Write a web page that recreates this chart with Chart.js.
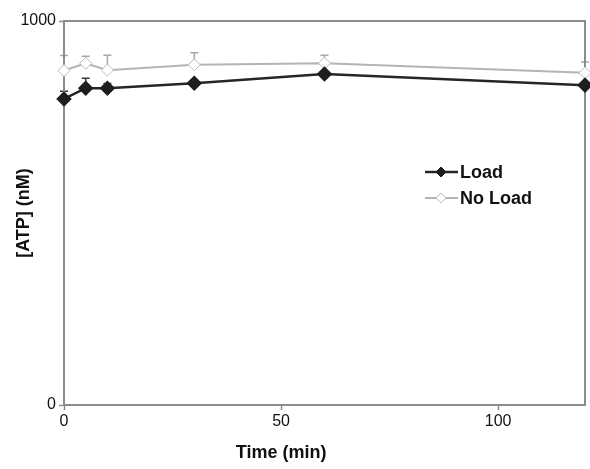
<!DOCTYPE html>
<html>
<head>
<meta charset="utf-8">
<script src="https://cdn.jsdelivr.net/npm/chart.js@4"></script>
<style>
  html, body { margin: 0; padding: 0; background: #fff; }
  #wrap { width: 590px; height: 469px; }
</style>
</head>
<body>
<div id="wrap"><canvas id="atpChart" width="590" height="469"></canvas></div>
<script>
const times = [0, 5, 10, 30, 60, 120];
const loadVals = [797, 825, 825, 838, 862, 833];
const loadErr = [20, 26, 12, 8, 5, 6];
const noLoadVals = [871, 890, 872, 886, 890, 865];
const noLoadErr = [39, 18, 39, 31, 21, 28];
const xTicks = [0, 50, 100];
const yTicks = [0, 1000];

const FONT = '"Liberation Sans", Arial, sans-serif';
const axisGray = '#8c8c8c';

const toPoints = vals => times.map((t, i) => ({ x: t, y: vals[i] }));

// upward-only error bars with a small cap
const errorBars = {
  id: 'errorBars',
  beforeDatasetsDraw(chart) {
    const { ctx, scales: { x, y } } = chart;
    chart.data.datasets.forEach(ds => {
      ctx.save();
      ctx.strokeStyle = ds.errColor;
      ctx.lineWidth = 1.5;
      ds.data.forEach((p, i) => {
        const px = x.getPixelForValue(p.x);
        const y0 = y.getPixelForValue(p.y);
        const y1 = y.getPixelForValue(p.y + ds.err[i]);
        ctx.beginPath();
        ctx.moveTo(px, y0);
        ctx.lineTo(px, y1);
        ctx.moveTo(px - 4, y1);
        ctx.lineTo(px + 4, y1);
        ctx.stroke();
      });
      ctx.restore();
    });
  }
};

// box around the plot area, legend and x title
const frame = {
  id: 'frame',
  beforeDatasetsDraw(chart) {
    const { ctx, chartArea: a } = chart;
    ctx.save();
    ctx.strokeStyle = axisGray;
    ctx.lineWidth = 2;
    ctx.strokeRect(a.left, a.top, a.right - a.left, a.bottom - a.top);
    ctx.restore();
  },
  afterDraw(chart) {
    const { ctx, scales: { x } } = chart;
    ctx.save();
    ctx.fillStyle = '#111';
    ctx.font = 'bold 18px ' + FONT;
    ctx.textAlign = 'center';
    ctx.textBaseline = 'middle';
    ctx.fillText('Time (min)', x.getPixelForValue(50), 453);

    ctx.textAlign = 'left';
    chart.data.datasets.forEach((ds, i) => {
      const ly = 172 + i * 26;
      ctx.strokeStyle = ds.borderColor;
      ctx.lineWidth = ds.borderWidth;
      ctx.beginPath();
      ctx.moveTo(425, ly);
      ctx.lineTo(458, ly);
      ctx.stroke();
      ctx.beginPath();
      ctx.moveTo(441, ly - 5);
      ctx.lineTo(446, ly);
      ctx.lineTo(441, ly + 5);
      ctx.lineTo(436, ly);
      ctx.closePath();
      ctx.fillStyle = ds.pointBackgroundColor;
      ctx.fill();
      ctx.strokeStyle = ds.pointBorderColor;
      ctx.lineWidth = 1;
      ctx.stroke();
      ctx.fillStyle = '#111';
      ctx.fillText(ds.label, 460, ly + 1);
    });
    ctx.restore();
  }
};

new Chart(document.getElementById('atpChart'), {
  type: 'line',
  data: {
    datasets: [
      {
        label: 'Load',
        data: toPoints(loadVals),
        err: loadErr,
        errColor: '#3a3a3a',
        borderColor: '#262626',
        borderWidth: 2.5,
        pointStyle: 'rectRot',
        pointRadius: 6,
        pointBackgroundColor: '#1e1e1e',
        pointBorderColor: '#1e1e1e',
        tension: 0,
        clip: false
      },
      {
        label: 'No Load',
        data: toPoints(noLoadVals),
        err: noLoadErr,
        errColor: '#a8a8a8',
        borderColor: '#b4b4b4',
        borderWidth: 2,
        pointStyle: 'rectRot',
        pointRadius: 6,
        pointBackgroundColor: '#fff',
        pointBorderColor: '#bdbdbd',
        pointBorderWidth: 1,
        tension: 0,
        clip: false
      }
    ]
  },
  options: {
    responsive: false,
    animation: false,
    layout: { autoPadding: false, padding: { top: 21, right: 5, left: 0, bottom: 0 } },
    plugins: { legend: { display: false }, tooltip: { enabled: false } },
    scales: {
      x: {
        type: 'linear',
        min: 0,
        max: 120,
        afterBuildTicks: s => { s.ticks = xTicks.map(v => ({ value: v })); },
        afterFit: s => { s.height = 64; s.paddingLeft = 0; s.paddingRight = 0; },
        grid: { drawOnChartArea: false, color: axisGray, tickLength: 5, tickWidth: 1.5 },
        border: { color: axisGray, width: 2 },
        ticks: { color: '#111', font: { family: FONT, size: 16 }, padding: 2, maxRotation: 0 }
      },
      y: {
        min: 0,
        max: 1000,
        afterBuildTicks: s => { s.ticks = yTicks.map(v => ({ value: v })); },
        afterFit: s => { s.width = 64; },
        grid: { drawOnChartArea: false, color: axisGray, tickLength: 5, tickWidth: 1.5 },
        border: { color: axisGray, width: 2 },
        ticks: { color: '#111', font: { family: FONT, size: 16 }, padding: 3, callback: v => String(v) },
        title: {
          display: true,
          text: '[ATP] (nM)',
          color: '#111',
          font: { family: FONT, size: 18, weight: 'bold' },
          padding: { top: 13, bottom: 0 }
        }
      }
    }
  },
  plugins: [errorBars, frame]
});
</script>
</body>
</html>
